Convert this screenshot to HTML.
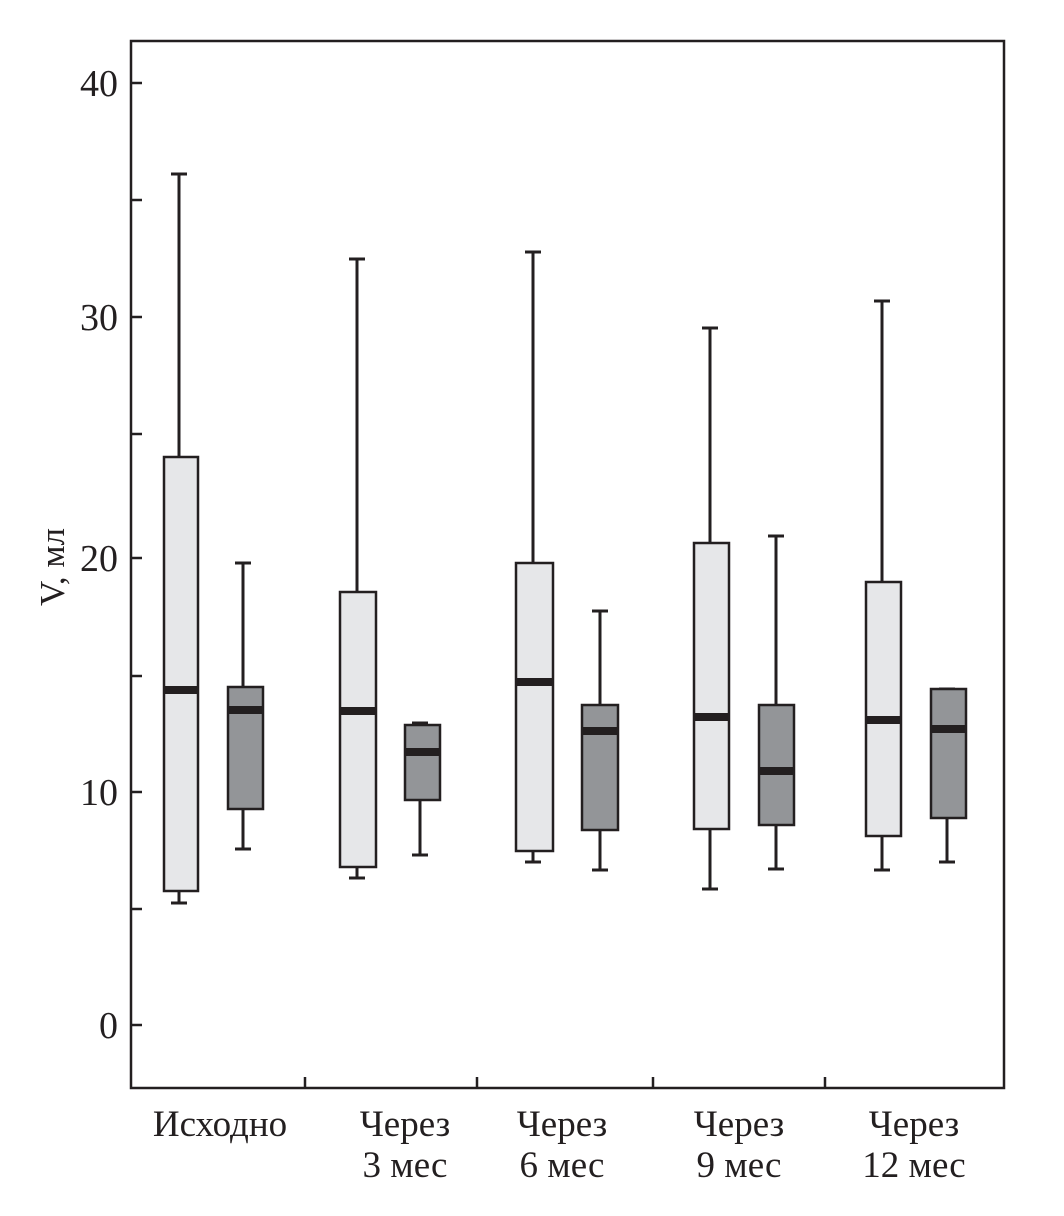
<!DOCTYPE html>
<html><head><meta charset="utf-8"><style>html,body{margin:0;padding:0;background:#fff}svg{display:block}</style></head>
<body>
<svg width="1064" height="1216" viewBox="0 0 1064 1216" xmlns="http://www.w3.org/2000/svg" font-family="Liberation Serif, serif" fill="#231f20">
<g stroke="#231f20" stroke-width="2.5" fill="none">
<rect x="131" y="41" width="873" height="1047"/>
<line x1="131" y1="83" x2="142" y2="83"/>
<line x1="131" y1="200" x2="142" y2="200"/>
<line x1="131" y1="317" x2="142" y2="317"/>
<line x1="131" y1="434" x2="142" y2="434"/>
<line x1="131" y1="558" x2="142" y2="558"/>
<line x1="131" y1="676" x2="142" y2="676"/>
<line x1="131" y1="792" x2="142" y2="792"/>
<line x1="131" y1="909" x2="142" y2="909"/>
<line x1="131" y1="1025" x2="142" y2="1025"/>
<line x1="305" y1="1088" x2="305" y2="1077"/>
<line x1="477" y1="1088" x2="477" y2="1077"/>
<line x1="653" y1="1088" x2="653" y2="1077"/>
<line x1="825" y1="1088" x2="825" y2="1077"/>
</g>
<g font-size="38" text-anchor="end">
<text x="118" y="96">40</text>
<text x="118" y="330">30</text>
<text x="118" y="571">20</text>
<text x="118" y="805">10</text>
<text x="118" y="1038">0</text>
</g>
<text transform="translate(64,567) rotate(-90)" font-size="35" text-anchor="middle">V, мл</text>
<g font-size="37" text-anchor="middle">
<text x="220" y="1136">Исходно</text>
<text x="405" y="1136">Через</text><text x="405" y="1177">3 мес</text>
<text x="562" y="1136">Через</text><text x="562" y="1177">6 мес</text>
<text x="739" y="1136">Через</text><text x="739" y="1177">9 мес</text>
<text x="914" y="1136">Через</text><text x="914" y="1177">12 мес</text>
</g>
<g stroke="#231f20" stroke-width="3">
<line x1="179" y1="174" x2="179" y2="457"/><line x1="171" y1="174" x2="187" y2="174"/><line x1="179" y1="891" x2="179" y2="903"/><line x1="171" y1="903" x2="187" y2="903"/>
<line x1="243" y1="563" x2="243" y2="687"/><line x1="235" y1="563" x2="251" y2="563"/><line x1="243" y1="809" x2="243" y2="849"/><line x1="235" y1="849" x2="251" y2="849"/>
<line x1="357" y1="259" x2="357" y2="592"/><line x1="349" y1="259" x2="365" y2="259"/><line x1="357" y1="867" x2="357" y2="878"/><line x1="349" y1="878" x2="365" y2="878"/>
<line x1="420" y1="723" x2="420" y2="725"/><line x1="412" y1="723" x2="428" y2="723"/><line x1="420" y1="800" x2="420" y2="855"/><line x1="412" y1="855" x2="428" y2="855"/>
<line x1="533" y1="252" x2="533" y2="563"/><line x1="525" y1="252" x2="541" y2="252"/><line x1="533" y1="851" x2="533" y2="862"/><line x1="525" y1="862" x2="541" y2="862"/>
<line x1="600" y1="611" x2="600" y2="705"/><line x1="592" y1="611" x2="608" y2="611"/><line x1="600" y1="830" x2="600" y2="870"/><line x1="592" y1="870" x2="608" y2="870"/>
<line x1="710" y1="328" x2="710" y2="543"/><line x1="702" y1="328" x2="718" y2="328"/><line x1="710" y1="829" x2="710" y2="889"/><line x1="702" y1="889" x2="718" y2="889"/>
<line x1="776" y1="536" x2="776" y2="705"/><line x1="768" y1="536" x2="784" y2="536"/><line x1="776" y1="825" x2="776" y2="869"/><line x1="768" y1="869" x2="784" y2="869"/>
<line x1="882" y1="301" x2="882" y2="582"/><line x1="874" y1="301" x2="890" y2="301"/><line x1="882" y1="836" x2="882" y2="870"/><line x1="874" y1="870" x2="890" y2="870"/>
<line x1="939" y1="689" x2="955" y2="689"/><line x1="947" y1="818" x2="947" y2="862"/><line x1="939" y1="862" x2="955" y2="862"/>
</g>
<g stroke="#231f20" stroke-width="2.5">
<rect x="164" y="457" width="34" height="434" fill="#e6e7e9"/>
<rect x="228" y="687" width="35" height="122" fill="#939598"/>
<rect x="340" y="592" width="36" height="275" fill="#e6e7e9"/>
<rect x="405" y="725" width="35" height="75" fill="#939598"/>
<rect x="516" y="563" width="37" height="288" fill="#e6e7e9"/>
<rect x="582" y="705" width="36" height="125" fill="#939598"/>
<rect x="694" y="543" width="35" height="286" fill="#e6e7e9"/>
<rect x="759" y="705" width="35" height="120" fill="#939598"/>
<rect x="866" y="582" width="35" height="254" fill="#e6e7e9"/>
<rect x="931" y="689" width="35" height="129" fill="#939598"/>
</g>
<g stroke="#231f20" stroke-width="8">
<line x1="164" y1="690" x2="198" y2="690"/>
<line x1="228" y1="710" x2="263" y2="710"/>
<line x1="340" y1="711" x2="376" y2="711"/>
<line x1="405" y1="752" x2="440" y2="752"/>
<line x1="516" y1="682" x2="553" y2="682"/>
<line x1="582" y1="731" x2="618" y2="731"/>
<line x1="694" y1="717" x2="729" y2="717"/>
<line x1="759" y1="771" x2="794" y2="771"/>
<line x1="866" y1="720" x2="901" y2="720"/>
<line x1="931" y1="729" x2="966" y2="729"/>
</g>
</svg>
</body></html>
